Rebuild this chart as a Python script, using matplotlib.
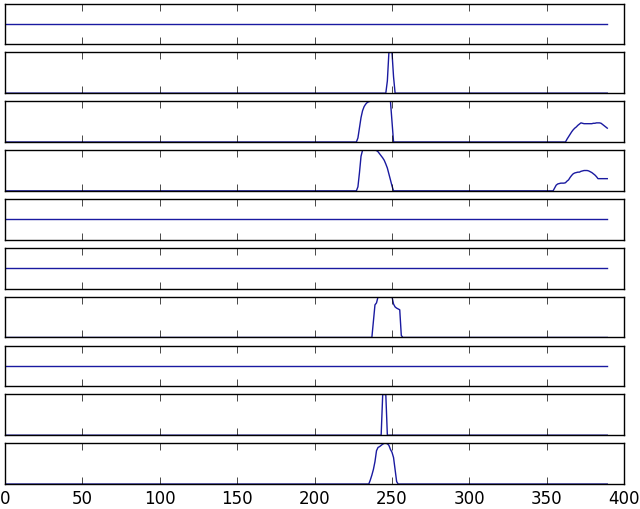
import numpy as np
import matplotlib
matplotlib.use("Agg")
import matplotlib.pyplot as plt

plt.style.use("classic")

n_points = 390
x_ticks = [0, 50, 100, 150, 200, 250, 300, 350, 400]
flat_level = 0.0

# nonzero segments: (start index, values)
p2_segments = [(246, [0, 0.3, 1, 1, 1, 0.4, 0])]
p3_segments = [
    (227, [0, 0.1, 0.35, 0.6, 0.77, 0.87, 0.93, 0.97, 0.99, 1,
           1, 1, 1, 1, 1, 1, 1, 1, 1, 1, 1, 1, 1, 0.5, 0]),
    (361, [0, 0.0, 0.07, 0.13, 0.19, 0.25, 0.3, 0.34, 0.37, 0.41, 0.44,
           0.47, 0.46, 0.45, 0.45, 0.45, 0.45, 0.45, 0.45, 0.46, 0.46,
           0.47, 0.47, 0.47, 0.46, 0.43, 0.40, 0.37, 0.34]),
]
p4_segments = [
    (227, [0, 0.1, 0.45, 0.85, 1, 1, 1, 1, 1, 1, 1, 1, 1,
           0.99, 0.96, 0.91, 0.86, 0.81, 0.75, 0.66, 0.56, 0.42, 0.27, 0.12, 0]),
    (354, [0, 0.07, 0.14, 0.17, 0.18, 0.19, 0.19, 0.19, 0.2, 0.24, 0.27,
           0.33, 0.38, 0.42, 0.44, 0.45, 0.46, 0.46, 0.48, 0.49, 0.5, 0.5,
           0.5, 0.49, 0.47, 0.45, 0.42, 0.39, 0.35, 0.3, 0.3, 0.3, 0.3,
           0.3, 0.3, 0.3]),
]
p7_segments = [
    (237, [0, 0.4, 0.8, 0.85, 1, 1, 1, 1, 1, 1, 1, 1, 1, 1,
           0.82, 0.75, 0.72, 0.7, 0.68, 0.05, 0]),
]
p9_segments = [(243, [0, 1, 1, 1, 0])]
p10_segments = [
    (235, [0, 0.1, 0.22, 0.36, 0.55, 0.82, 0.9, 0.92, 0.95, 0.98, 1.0,
           1.0, 0.99, 0.95, 0.85, 0.78, 0.65, 0.35, 0.06, 0]),
]

panel_segments = [None, p2_segments, p3_segments, p4_segments, None,
                  None, p7_segments, None, p9_segments, p10_segments]


def build(segments):
    if segments is None:
        return np.full(n_points, flat_level)
    y = np.zeros(n_points)
    for start, vals in segments:
        y[start:start + len(vals)] = vals
    return y


x = np.arange(n_points)

fig, axes = plt.subplots(10, 1, sharex=True, figsize=(6.4, 5.09), dpi=100)
fig.patch.set_facecolor("white")
fig.subplots_adjust(left=0.0075, right=0.9755, top=0.993, bottom=0.049,
                    hspace=0.2)

for ax, seg in zip(axes, panel_segments):
    ax.set_facecolor("white")
    ax.plot(x, build(seg), color="#1a1aa0", lw=1.0)
    ax.set_yticks([])
    ax.set_xlim(0, 400)
    ax.set_xticks(x_ticks)
    ax.tick_params(axis="x", direction="in", top=True, bottom=True,
                   length=5)

axes[-1].set_xticklabels([str(t) for t in x_ticks], fontsize=12)

fig.savefig("out.png", dpi=100, facecolor="white")
